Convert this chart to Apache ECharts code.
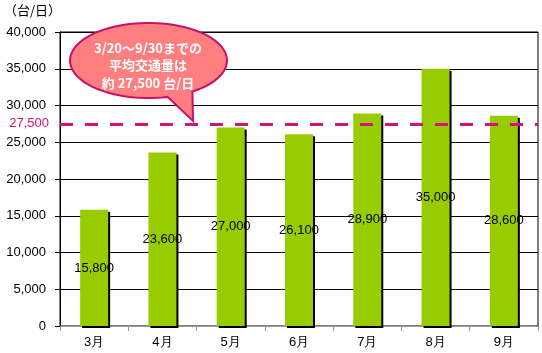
<!DOCTYPE html>
<html><head><meta charset="utf-8">
<script src="https://cdn.jsdelivr.net/npm/echarts@6/dist/echarts.min.js"></script>
<style>html,body{margin:0;padding:0;background:#fff}#c{width:542px;height:353px}</style>
</head><body><div id="c"></div>
<script>
const categories = ['3月','4月','5月','6月','7月','8月','9月'];
const trafficValues = [15800, 23600, 27000, 26100, 28900, 35000, 28600];
const averageValue = 27500;
const averageLabel = '27,500';
const yTicks = {min: 0, max: 40000, interval: 5000};
const unitLabel = '（台/日）';
const calloutLines = ['3/20～9/30までの', '平均交通量は', '約 27,500 台/日'];

const chart = echarts.init(document.getElementById('c'));

// callout bubble outline (decoration)
const cx = 148.5, cy = 60.5, rx = 78.5, ry = 37.5;
const pts = [];
for (let a = 76; a <= 416; a += 4) {
  const t = a * Math.PI / 180;
  pts.push([cx + rx * Math.cos(t), cy + ry * Math.sin(t)]);
}
pts.push([193, 121]);

const fmt = v => v.toLocaleString('en-US');

chart.setOption({
  animation: false,
  grid: {left: 60, right: 4, top: 32, bottom: 27, show: true, borderColor: '#000', borderWidth: 1},
  xAxis: {
    type: 'category', data: categories,
    axisLine: {lineStyle: {color: '#999'}},
    axisTick: {show: true, length: 5, lineStyle: {color: '#999'}},
    axisLabel: {color: '#000', fontSize: 13, fontFamily: 'Liberation Sans, Arial', margin: 10}
  },
  yAxis: {
    type: 'value', min: yTicks.min, max: yTicks.max, interval: yTicks.interval,
    axisLine: {show: true, lineStyle: {color: '#000'}},
    axisTick: {show: true, length: 5, lineStyle: {color: '#000'}},
    splitLine: {lineStyle: {color: '#000', width: 1}},
    axisLabel: {color: '#000', fontSize: 13, fontFamily: 'Liberation Sans, Arial', margin: 14, formatter: fmt}
  },
  series: [{
    type: 'bar', data: trafficValues, barWidth: 28,
    itemStyle: {color: '#99CC00', shadowColor: '#000', shadowOffsetX: 2, shadowOffsetY: 2, shadowBlur: 0},
    label: {show: true, position: 'inside', color: '#000', fontSize: 13, fontFamily: 'Liberation Sans, Arial', formatter: p => fmt(p.value)},
    markLine: {
      silent: true, symbol: 'none', z: 10,
      lineStyle: {color: '#D4147A', width: 3, type: [13, 12], opacity: 1},
      label: {show: true, position: 'start', formatter: averageLabel, color: '#D4147A', fontSize: 13, fontFamily: 'Liberation Sans, Arial', distance: 11},
      data: [{yAxis: averageValue}]
    }
  }],
  graphic: [
    {type: 'text', left: 4, top: 4, style: {text: unitLabel, fontSize: 13, fill: '#000', fontFamily: 'Noto Sans CJK JP'}},
    {type: 'polygon', shape: {points: pts}, style: {fill: '#FF7F80', stroke: '#C8106A', lineWidth: 2}, z: 100},
    {type: 'text', x: 148, y: 48, style: {text: calloutLines[0], fill: '#fff', fontSize: 13, fontWeight: 'bold', fontFamily: 'Noto Sans CJK JP', align: 'center', verticalAlign: 'middle'}, z: 101},
    {type: 'text', x: 148, y: 65, style: {text: calloutLines[1], fill: '#fff', fontSize: 13, fontWeight: 'bold', fontFamily: 'Noto Sans CJK JP', align: 'center', verticalAlign: 'middle'}, z: 101},
    {type: 'text', x: 148, y: 83, style: {text: calloutLines[2], fill: '#fff', fontSize: 13, fontWeight: 'bold', fontFamily: 'Noto Sans CJK JP', align: 'center', verticalAlign: 'middle'}, z: 101}
  ]
});
</script></body></html>
